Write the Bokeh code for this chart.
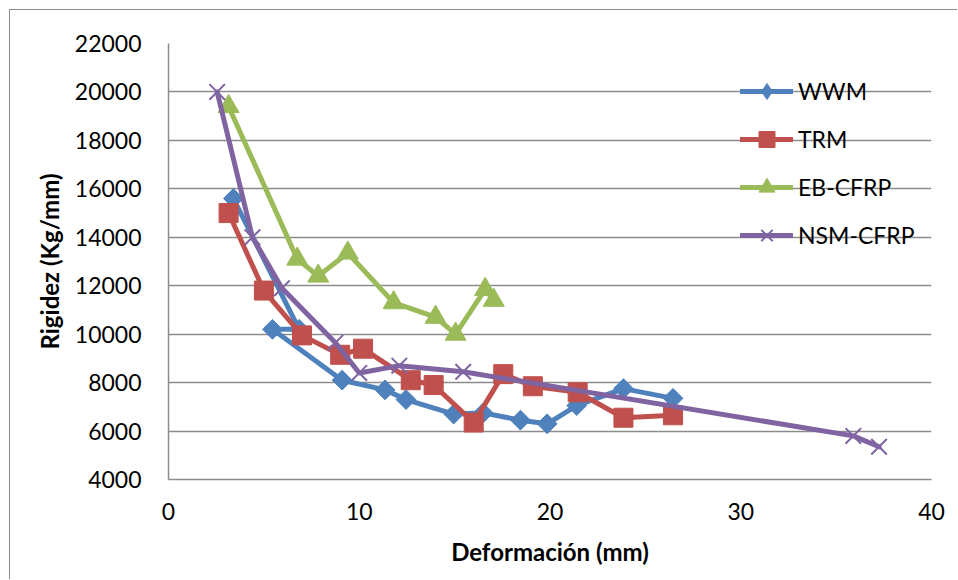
import numpy as np
from bokeh.plotting import figure
from bokeh.models import Range1d, FixedTicker, Legend, LegendItem
from bokeh.embed import file_html
from bokeh.resources import INLINE

# Rigidez vs deformación para cada sistema de refuerzo
wwm_x = [3.4, 6.85, 5.45, 9.1, 11.35, 12.45, 14.95, 16.5, 18.45, 19.85, 21.4, 23.85, 26.45]
wwm_y = [15600, 10200, 10200, 8100, 7700, 7300, 6700, 6750, 6450, 6300, 7050, 7750, 7350]

trm_x = [3.15, 5.0, 7.0, 9.0, 10.2, 12.7, 13.9, 16.0, 17.55, 19.1, 21.45, 23.85, 26.45]
trm_y = [15000, 11800, 9950, 9150, 9400, 8100, 7900, 6350, 8350, 7850, 7600, 6550, 6650]

eb_x = [3.15, 6.75, 7.85, 9.4, 11.8, 14.0, 15.05, 16.6, 17.05]
eb_y = [19400, 13100, 12400, 13350, 11300, 10700, 10000, 11850, 11400]

nsm_x = [2.55, 4.4, 5.95, 8.75, 10.0, 12.1, 15.45, 35.9, 37.25]
nsm_y = [20000, 14000, 11900, 9650, 8400, 8700, 8450, 5800, 5350]

x_ticks = [0, 10, 20, 30, 40]
y_ticks = list(range(4000, 22001, 2000))

FONT = "Lato"
GRID = "#8c8c8c"

p = figure(width=948, height=570,
           x_range=Range1d(0, 40), y_range=Range1d(4000, 22000),
           output_backend="svg", toolbar_location=None,
           min_border_left=158, min_border_right=27,
           min_border_top=33, min_border_bottom=101)
p.styles = {"margin-left": "9px", "margin-top": "9px",
            "border-left": "1px solid #8c8c8c", "border-top": "1px solid #8c8c8c"}

p.outline_line_color = None
p.background_fill_color = "white"
p.border_fill_color = "white"

p.xgrid.grid_line_color = None
p.ygrid.grid_line_color = GRID
p.ygrid.grid_line_width = 1.5

p.xaxis.ticker = FixedTicker(ticks=x_ticks)
p.yaxis.ticker = FixedTicker(ticks=y_ticks)

for ax in (p.xaxis, p.yaxis):
    ax.axis_line_color = GRID
    ax.axis_line_width = 1.5
    ax.major_tick_out = 0
    ax.major_tick_in = 0
    ax.minor_tick_out = 0
    ax.minor_tick_in = 0
    ax.major_label_text_font = FONT
    ax.major_label_text_font_size = "23px"
    ax.major_label_text_color = "black"
    ax.axis_label_text_font = FONT
    ax.axis_label_text_font_size = "24px"
    ax.axis_label_text_font_style = "bold"
    ax.axis_label_text_color = "black"

p.xaxis.axis_label = "Deformación (mm)"
p.yaxis.axis_label = "Rigidez (Kg/mm)"
p.xaxis.major_label_standoff = 23
p.yaxis.major_label_standoff = 27
p.xaxis.axis_label_standoff = 14
p.yaxis.axis_label_standoff = 8

LW = 5
# (name, x, y, colour, plot marker, legend marker)
series = [
    ("WWM", wwm_x, wwm_y, "#4F81BD",
     dict(marker="square", size=14, angle=np.pi / 4), "diamond"),
    ("TRM", trm_x, trm_y, "#C0504D", dict(marker="square", size=19), None),
    ("EB-CFRP", eb_x, eb_y, "#9BBB59", dict(marker="triangle", size=21), None),
    ("NSM-CFRP", nsm_x, nsm_y, "#8064A2", dict(marker="x", size=22, line_width=2), None),
]

items = []
for name, xs, ys, color, mk, legend_marker in series:
    ln = p.line(xs, ys, line_color=color, line_width=LW, line_join="round", line_cap="round")
    opts = dict(mk)
    if opts["marker"] == "x":
        sc = p.scatter(xs, ys, line_color=color, **opts)
    else:
        sc = p.scatter(xs, ys, fill_color=color, line_color=color, **opts)
    if legend_marker is not None:
        # the legend does not rotate markers, so use an unrotated diamond there
        sc = p.scatter([np.nan], [np.nan], marker=legend_marker, size=18,
                       fill_color=color, line_color=color)
    items.append(LegendItem(label=name, renderers=[ln, sc]))

legend = Legend(items=items, location=(572, 224),
                glyph_width=53, glyph_height=40, label_height=40, spacing=8,
                label_standoff=5, padding=0, margin=0,
                border_line_color=None, background_fill_alpha=0,
                label_text_font=FONT, label_text_font_size="23px",
                label_text_color="black")
p.add_layout(legend)

open("out.html", "w").write(file_html(p, INLINE))
